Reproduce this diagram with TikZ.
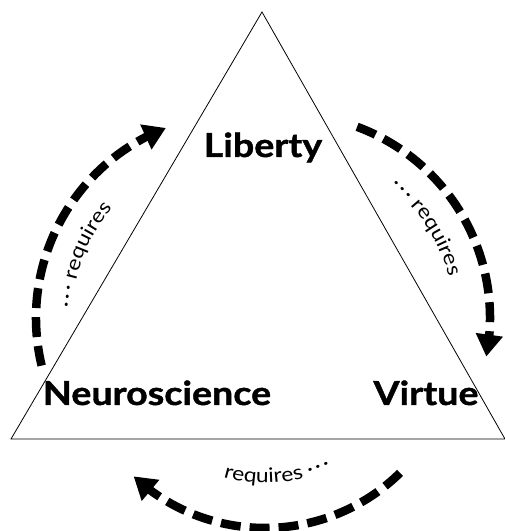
\documentclass[tikz,border=0pt]{standalone}
\usepackage{fontspec}
\setmainfont{Lato}
\newfontfamily\gillish{Lato}[FakeStretch=1.14, BoldFeatures={FakeBold=1.2}]
\newcommand\glossfont{\gillish\fontsize{20}{24}\selectfont}
\newcommand\gdots{·\kern2.5pt·\kern2.5pt·}
\usetikzlibrary{arrows.meta}
\usetikzlibrary{bending}
\usetikzlibrary{decorations.text}

\begin{document}
\begin{tikzpicture}[
    x=1pt, y=1pt,
    corner/.style={font=\gillish\fontsize{33}{40}\selectfont\bfseries, anchor=base},
    reqarrow/.style={line width=8.5pt, dash pattern=on 20pt off 9pt,
        -{Triangle[length=22pt,width=26pt,flex]}},
    gloss/.style={decorate, decoration={text along path, text align=center,
        text={|\glossfont|#1}}},
 ]
    \useasboundingbox (0,0) rectangle (505,531);
    \coordinate (top) at (262,519);
    \coordinate (left) at (11,92);
    \coordinate (right) at (505,92);
    \draw[line width=0.8pt] (top) -- (left) -- (right) -- cycle;

    \node[corner] (liberty) at (263,374) {Liberty};
    \node[corner] (neuro) at (157,126) {Neuroscience};
    \node[corner] (virtue) at (426,126) {Virtue};

    % centres of the three arcs
    \coordinate (c-left) at (240,213);
    \coordinate (c-right) at (286,213);
    \coordinate (c-bottom) at (265,196);

    \draw[reqarrow] (c-left) ++(193.5:204pt) arc[start angle=193.5, end angle=111.3, radius=204pt];
    \draw[reqarrow] (c-right) ++(69.6:204pt) arc[start angle=69.6, end angle=-10.9, radius=204pt];
    \draw[reqarrow] (c-bottom) ++(-45.6:193pt) arc[start angle=-45.6, end angle=-132.9, radius=193pt];

    \path[gloss={{\gdots} requires}] (c-left) ++(188:168pt) arc[start angle=188, end angle=128, radius=168pt];
    \path[gloss={{\gdots} requires}] (c-right) ++(63:168pt) arc[start angle=63, end angle=3, radius=168pt];
    \path[gloss={requires {\gdots}}] (c-bottom) ++(245:148pt) arc[start angle=245, end angle=305, radius=148pt];
\end{tikzpicture}
\end{document}
